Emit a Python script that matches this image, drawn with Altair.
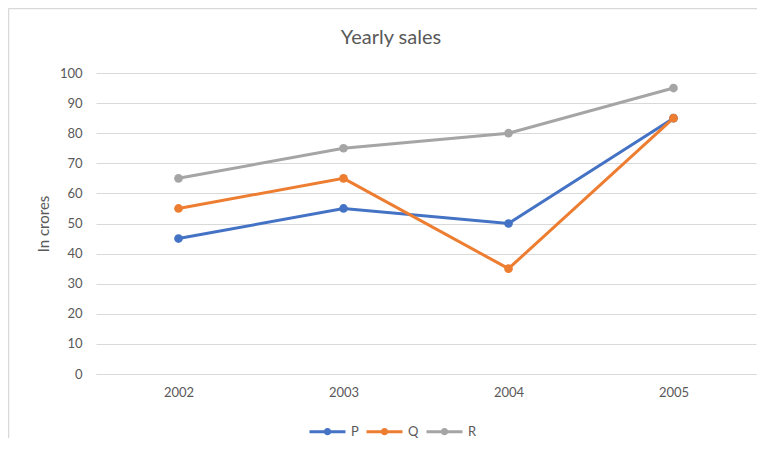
import altair as alt
import pandas as pd

years = ["2002", "2003", "2004", "2005"]
series = ["P", "Q", "R"]
p_vals = [45, 55, 50, 85]
q_vals = [55, 65, 35, 85]
r_vals = [65, 75, 80, 95]
colors = ["#4472C4", "#ED7D31", "#A5A5A5"]
y_ticks = list(range(0, 101, 10))

rows = []
for name, vals in zip(series, [p_vals, q_vals, r_vals]):
    for yr, v in zip(years, vals):
        rows.append({"Year": yr, "Series": name, "Value": v})
df = pd.DataFrame(rows)

FONT = "Lato"
GREY = "#595959"
GRID = "#D9D9D9"
W, H = 660, 301

legend_sym = "M-1,0L1,0M-0.12,0a0.12,0.12 0 1,0 0.24,0a0.12,0.12 0 1,0 -0.24,0"

lines = alt.Chart(df).mark_line(
    point=alt.OverlayMarkDef(filled=True, size=75), strokeWidth=3
).encode(
    x=alt.X("Year:O", scale=alt.Scale(type="point", padding=0.5),
            axis=alt.Axis(title=None, labelAngle=0, ticks=False, domain=True,
                          domainColor=GRID, labelPadding=12, labelFontSize=13,
                          labelColor=GREY, labelFont=FONT, grid=False)),
    y=alt.Y("Value:Q", scale=alt.Scale(domain=[0, 100], nice=False),
            axis=alt.Axis(values=y_ticks, title="In crores", titleX=-53, titleY=H / 2,
                          titleAngle=270, titleAlign="center", titleBaseline="middle",
                          titleFontSize=15, titleFontWeight="normal", titleColor=GREY,
                          titleFont=FONT, domain=False, ticks=False, labelPadding=14,
                          labelFontSize=13, labelColor=GREY, labelFont=FONT,
                          grid=True, gridColor=GRID, gridWidth=1)),
    color=alt.Color("Series:N", scale=alt.Scale(domain=series, range=colors),
                    legend=alt.Legend(title=None, orient="none", direction="horizontal",
                                      legendX=212, legendY=339, symbolType=legend_sym,
                                      symbolSize=1296, symbolStrokeWidth=3,
                                      labelFontSize=13, labelColor=GREY, labelFont=FONT,
                                      labelOffset=4, columnPadding=1, padding=0)),
    order=alt.Order("Series:N"),
)

title = alt.Chart(pd.DataFrame({"t": ["Yearly sales"]})).mark_text(
    fontSize=20, font=FONT, color=GREY, align="center", baseline="middle"
).encode(x=alt.value(295), y=alt.value(-35), text="t:N")

border_top = alt.Chart(pd.DataFrame({"a": [0]})).mark_rule(color=GRID, strokeWidth=1.5).encode(
    x=alt.value(-87.5), x2=alt.value(W + 5), y=alt.value(-64.5))
border_left = alt.Chart(pd.DataFrame({"a": [0]})).mark_rule(color=GRID, strokeWidth=1.5).encode(
    x=alt.value(-87.5), y=alt.value(-64.5), y2=alt.value(H + 70))

chart = alt.layer(border_top, border_left, lines, title).properties(
    width=W, height=H,
    autosize=alt.AutoSizeParams(type="none"),
    padding={"left": 88, "top": 65, "right": 1, "bottom": 64},
).configure_view(stroke=None)

chart.save("out.html", embed_options={"renderer": "svg", "actions": False})
